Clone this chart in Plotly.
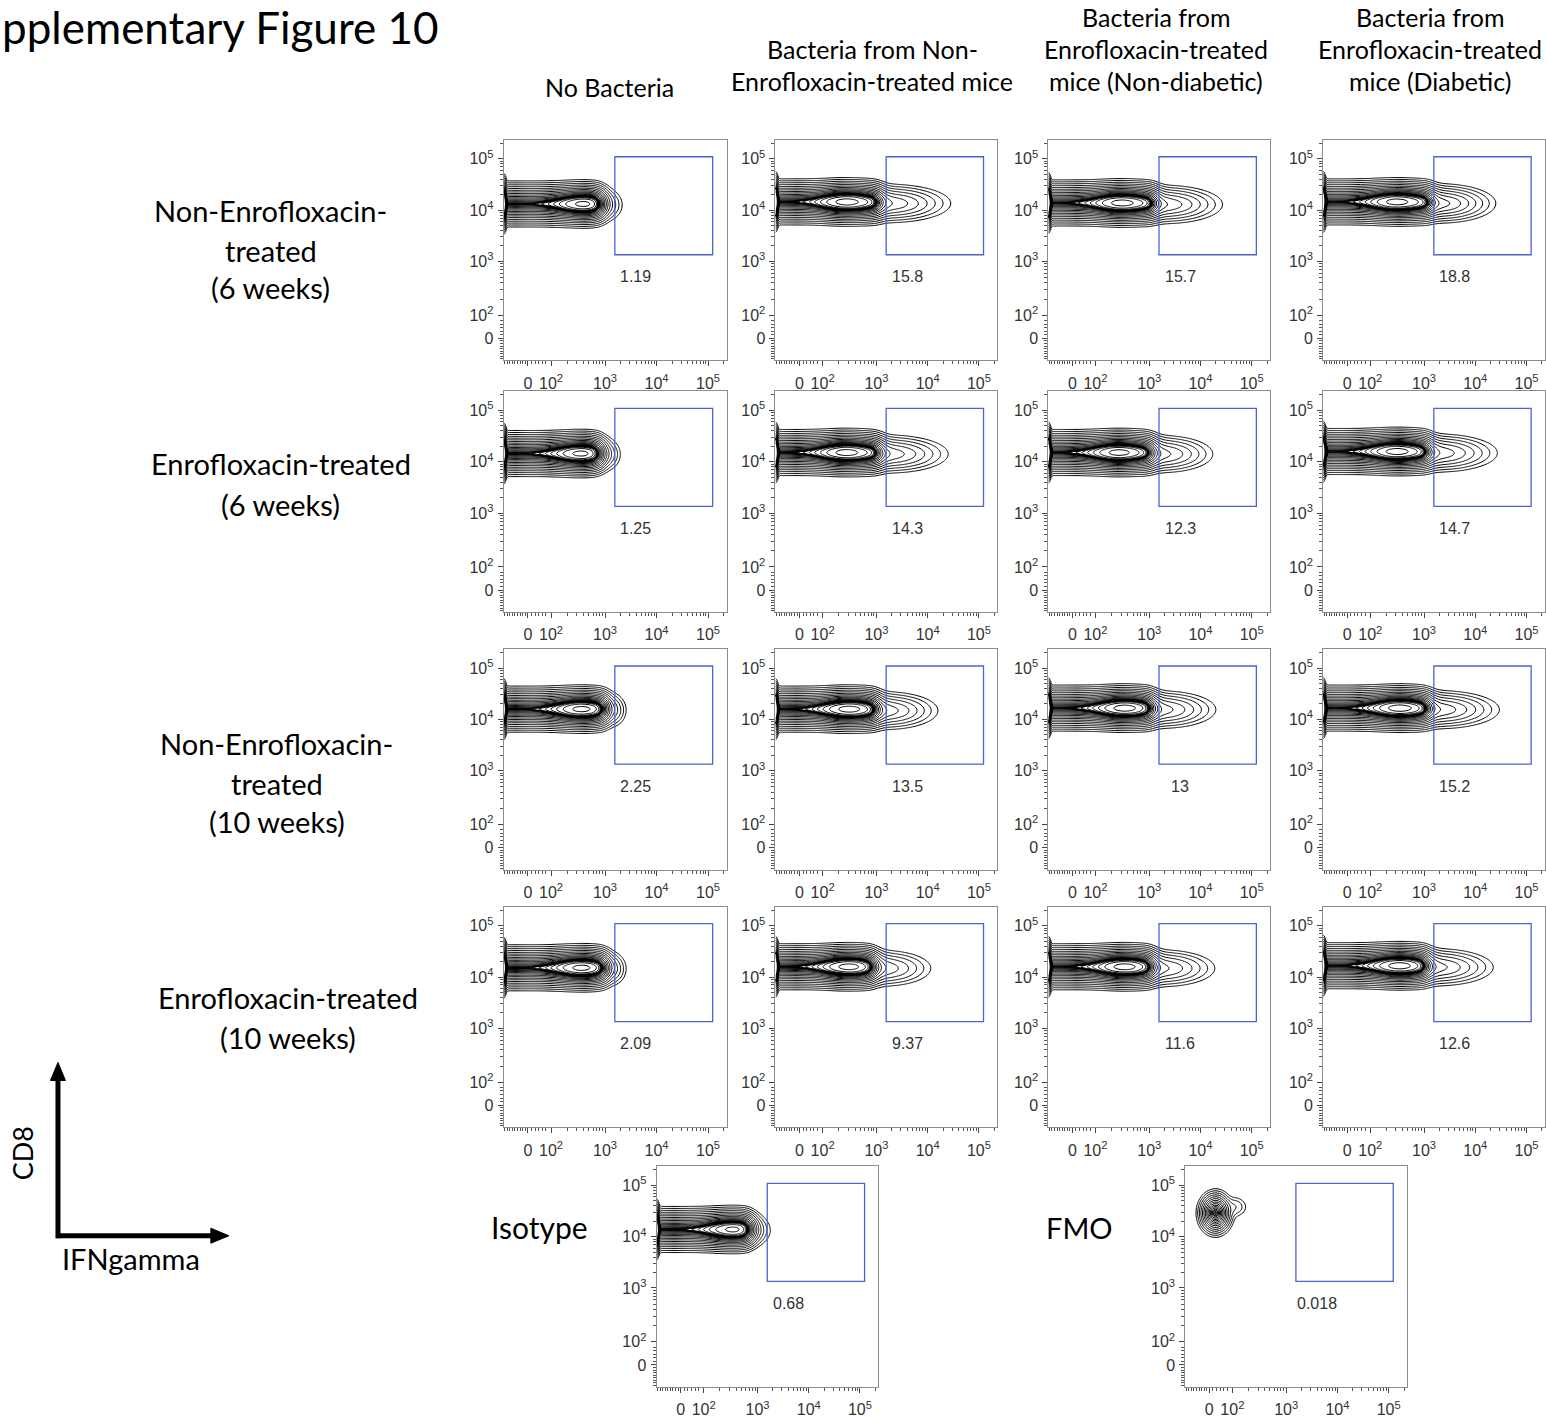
import numpy as np
import plotly.graph_objects as go

W, H = 1546, 1418

# ---------------------------------------------------------------- text
TITLE = "pplementary Figure 10"
COLUMN_HEADERS = [
    ["No Bacteria"],
    ["Bacteria from Non-", "Enrofloxacin-treated mice"],
    ["Bacteria from", "Enrofloxacin-treated", "mice (Non-diabetic)"],
    ["Bacteria from", "Enrofloxacin-treated", "mice (Diabetic)"],
]
ROW_LABELS = [
    ["Non-Enrofloxacin-", "treated", "(6 weeks)"],
    ["Enrofloxacin-treated", "(6 weeks)"],
    ["Non-Enrofloxacin-", "treated", "(10 weeks)"],
    ["Enrofloxacin-treated", "(10 weeks)"],
]
CONTROL_LABELS = ["Isotype", "FMO"]
AXIS_NAMES = ["CD8", "IFNgamma"]

# ---------------------------------------------------------------- axes (biexponential display units)
TICK_POS = [0.0, 0.45, 1.5, 2.5, 3.5]
TICK_TEXT = ["0", "10<sup>2</sup>", "10<sup>3</sup>", "10<sup>4</sup>", "10<sup>5</sup>"]
AXIS_RANGE_X = [-0.47, 3.86]
AXIS_RANGE_Y = [-0.43, 3.87]

# ---------------------------------------------------------------- IFNgamma+ gate and frequencies
GATE_X = [1.69, 3.59]
GATE_Y = [1.63, 3.54]
GATE_PCT = [
    [1.19, 15.8, 15.7, 18.8],
    [1.25, 14.3, 12.3, 14.7],
    [2.25, 13.5, 13, 15.2],
    [2.09, 9.37, 11.6, 12.6],
]
ISOTYPE_PCT = 0.68
FMO_PCT = 0.018

# ---------------------------------------------------------------- population shape (display units)
CD8_MID = [
    [2.62, 2.66, 2.64, 2.66],
    [2.66, 2.68, 2.68, 2.70],
    [2.70, 2.70, 2.72, 2.72],
    [2.68, 2.70, 2.70, 2.72],
]
BODY_END = [
    [1.42, 1.55, 1.60, 1.62],
    [1.40, 1.55, 1.55, 1.58],
    [1.50, 1.50, 1.55, 1.58],
    [1.50, 1.45, 1.55, 1.55],
]
TAIL_END = [
    [1.79, 2.95, 2.93, 2.90],
    [1.75, 2.90, 2.74, 2.93],
    [1.88, 2.70, 2.80, 2.97],
    [1.88, 2.56, 2.78, 2.85],
]
DENSE_X = [
    [1.10, 0.90, 0.95, 0.95],
    [1.05, 0.90, 0.90, 0.95],
    [1.05, 0.95, 1.00, 1.00],
    [1.05, 0.95, 1.00, 1.00],
]
ISOTYPE_SHAPE = {"cd8": 2.64, "body_end": 1.35, "tail_end": 1.67, "dense_x": 1.05}
FMO_CENTER = [0.12, 2.96]
FMO_SHOULDER = [0.50, 3.08]

# ---------------------------------------------------------------- density grid
XS = np.arange(AXIS_RANGE_X[0], AXIS_RANGE_X[1] + 1e-9, 0.02)
YS = np.arange(1.2, 3.86, 0.02)
GX, GY = np.meshgrid(XS, YS)
D_OUTER = 5.0            # log-density drop of the outermost contour
N_LEVELS = 17            # contour levels between the peak and the outer contour


def stain_density(pct, cd8, body_end, tail_end, dense_x):
    dy = GY - cd8
    sy = 0.142
    body = 1.0 / (1.0 + np.exp((GX - body_end) / 0.07))
    body = body * (1.0 + 0.8 * np.exp(-(GX - dense_x) ** 2 / (2 * 0.32 ** 2)))
    f = body * np.exp(-dy ** 2 / (2 * sy ** 2))
    # IFNgamma-producing tail, weighted by the gated frequency
    amp = 1.5 * pct / 100.0
    xt = body_end + 0.2
    reach = np.sqrt(max(2 * (D_OUTER + np.log(amp)), 0.3))
    sxt = max((tail_end - xt) / reach, 0.05)
    f = f + amp * np.exp(-(GX - xt) ** 2 / (2 * sxt ** 2) - (dy + 0.03) ** 2 / (2 * 0.14 ** 2))
    # events piled on the lower scale limit
    f = f + 3.0 * np.exp(-(GX - XS[0]) ** 2 / (2 * 0.025 ** 2) - dy ** 2 / (2 * 0.17 ** 2))
    return f


def fmo_density():
    dx = GX - FMO_CENTER[0]
    dy = GY - FMO_CENTER[1]
    f = np.exp(-dx ** 2 / (2 * 0.12 ** 2) - dy ** 2 / (2 * 0.15 ** 2))
    sx = GX - FMO_SHOULDER[0]
    sy = GY - FMO_SHOULDER[1]
    f = f + 0.03 * np.exp(-sx ** 2 / (2 * 0.12 ** 2) - sy ** 2 / (2 * 0.10 ** 2))
    return f


def level_field(f):
    # cube root of the log-density drop: contours crowd in the dense core
    d = -np.log(np.maximum(f, 1e-30))
    return np.sign(d) * np.abs(d) ** (1.0 / 3.0)


# ---------------------------------------------------------------- panel geometry (pixels)
COL_PX = [(504, 727), (776, 998), (1049, 1271), (1324, 1546)]
ROW_PX = [(140, 361), (392, 613), (650, 871), (908, 1129)]
ISOTYPE_PX = ((657, 879), (1168, 1389))
FMO_PX = ((1186, 1408), (1168, 1389))


def px_x(p):
    return p / W


def px_y(p):
    return 1 - p / H


panels = []
for r in range(4):
    for c in range(4):
        panels.append({
            "xpx": COL_PX[c], "ypx": ROW_PX[r], "pct": GATE_PCT[r][c],
            "z": stain_density(GATE_PCT[r][c], CD8_MID[r][c], BODY_END[r][c],
                               TAIL_END[r][c], DENSE_X[r][c]),
        })
panels.append({
    "xpx": ISOTYPE_PX[0], "ypx": ISOTYPE_PX[1], "pct": ISOTYPE_PCT,
    "z": stain_density(ISOTYPE_PCT, ISOTYPE_SHAPE["cd8"], ISOTYPE_SHAPE["body_end"],
                       ISOTYPE_SHAPE["tail_end"], ISOTYPE_SHAPE["dense_x"]),
})
panels.append({"xpx": FMO_PX[0], "ypx": FMO_PX[1], "pct": FMO_PCT, "z": fmo_density()})


def minor_ticks():
    vals = [v for v in np.arange(-0.45, -0.01, 0.05)]
    vals += [v for v in np.arange(0.07, 0.42, 0.07)]
    for k in range(2, 10):
        vals.append(0.45 + 1.05 * np.log10(k))
        vals.append(1.5 + np.log10(k))
        vals.append(2.5 + np.log10(k))
    vals.append(3.5 + np.log10(2))
    vals.append(3.5 + np.log10(3))
    return [round(float(v), 4) for v in vals]


MINOR = minor_ticks()
TICK_FONT = dict(family="Liberation Sans", size=16, color="#333333")


def axis_style(rng, domain, anchor, standoff):
    return dict(
        domain=domain, anchor=anchor, range=rng, fixedrange=True,
        showgrid=False, zeroline=False,
        showline=True, mirror=True, linecolor="#8c8c8c", linewidth=1,
        ticks="outside", ticklen=5, tickwidth=1, tickcolor="#444444",
        tickmode="array", tickvals=TICK_POS, ticktext=TICK_TEXT, tickfont=TICK_FONT,
        ticklabelstandoff=standoff,
        minor=dict(ticks="outside", ticklen=3, tickwidth=1, tickcolor="#555555",
                   tickmode="array", tickvals=MINOR),
    )


fig = go.Figure()
layout = {}
shapes = []
annotations = []

z_outer = D_OUTER ** (1.0 / 3.0)
z_step = z_outer / N_LEVELS
for i, p in enumerate(panels):
    n = i + 1
    xa = "x" if n == 1 else f"x{n}"
    ya = "y" if n == 1 else f"y{n}"
    xkey = "xaxis" if n == 1 else f"xaxis{n}"
    ykey = "yaxis" if n == 1 else f"yaxis{n}"
    xd = [px_x(p["xpx"][0]), min(px_x(p["xpx"][1]), 1.0)]
    yd = [px_y(p["ypx"][1]), px_y(p["ypx"][0])]
    layout[xkey] = axis_style(AXIS_RANGE_X, xd, ya, 3)
    layout[ykey] = axis_style(AXIS_RANGE_Y, yd, xa, 1)

    fig.add_trace(go.Contour(
        x=XS, y=YS, z=np.round(level_field(p["z"]), 4),
        xaxis=xa, yaxis=ya,
        autocontour=False,
        contours=dict(coloring="none", start=z_outer - z_step * 26,
                      end=z_outer, size=z_step),
        line=dict(color="black", width=1, smoothing=1),
        showscale=False, hoverinfo="skip",
    ))

    shapes.append(dict(type="rect", xref=xa, yref=ya,
                       x0=GATE_X[0], x1=GATE_X[1], y0=GATE_Y[0], y1=GATE_Y[1],
                       line=dict(color="#4a63d6", width=1.3), fillcolor="rgba(0,0,0,0)"))
    annotations.append(dict(xref=xa, yref=ya, x=2.1, y=1.2, text=f"{p['pct']:g}",
                            showarrow=False, font=dict(family="Liberation Sans", size=16,
                                                       color="#333333")))

LABEL_FONT = "Lato"


def text_at(x, y, s, size, **kw):
    d = dict(xref="paper", yref="paper", x=px_x(x), y=px_y(y), text=s, showarrow=False,
             xanchor="center", yanchor="middle",
             font=dict(family=LABEL_FONT, size=size, color="black"))
    d.update(kw)
    annotations.append(d)


# title
text_at(0, 27, TITLE, 44, xanchor="left")

# column headers
HEADER_X = [610, 873, 1157, 1431]
HEADER_Y = [17, 49, 81]
for cx, lines in zip(HEADER_X, COLUMN_HEADERS):
    if len(lines) == 1:
        ys = [87]
    else:
        ys = HEADER_Y[3 - len(lines):]
    for ln, yy in zip(lines, ys):
        text_at(cx, yy, ln, 25)

# row labels
ROW_LABEL_POS = [
    (271, [211, 251, 288]),
    (281, [464, 505]),
    (277, [745, 785, 823]),
    (288, [999, 1039]),
]
for (cx, ys), lines in zip(ROW_LABEL_POS, ROW_LABELS):
    for ln, yy in zip(lines, ys):
        text_at(cx, yy, ln, 29)

text_at(540, 1229, CONTROL_LABELS[0], 30)
text_at(1080, 1229, CONTROL_LABELS[1], 29)

# axis key
text_at(22, 1155, AXIS_NAMES[0], 27, textangle=-90)
text_at(131, 1260, AXIS_NAMES[1], 29)
shapes.append(dict(type="line", xref="paper", yref="paper",
                   x0=px_x(58), x1=px_x(58), y0=px_y(1240), y1=px_y(1080),
                   line=dict(color="black", width=5)))
shapes.append(dict(type="line", xref="paper", yref="paper",
                   x0=px_x(56), x1=px_x(214), y0=px_y(1237.5), y1=px_y(1237.5),
                   line=dict(color="black", width=5)))
shapes.append(dict(type="path", xref="paper", yref="paper",
                   path=f"M {px_x(58)},{px_y(1064)} L {px_x(50.5)},{px_y(1082)} "
                        f"L {px_x(65.5)},{px_y(1082)} Z",
                   fillcolor="black", line=dict(color="black", width=1)))
shapes.append(dict(type="path", xref="paper", yref="paper",
                   path=f"M {px_x(229)},{px_y(1237.5)} L {px_x(211)},{px_y(1230)} "
                        f"L {px_x(211)},{px_y(1245)} Z",
                   fillcolor="black", line=dict(color="black", width=1)))

fig.update_layout(
    width=W, height=H, margin=dict(l=0, r=0, t=0, b=0),
    paper_bgcolor="white", plot_bgcolor="white", showlegend=False,
    shapes=shapes, annotations=annotations, **layout,
)

fig.write_html("out.html")
